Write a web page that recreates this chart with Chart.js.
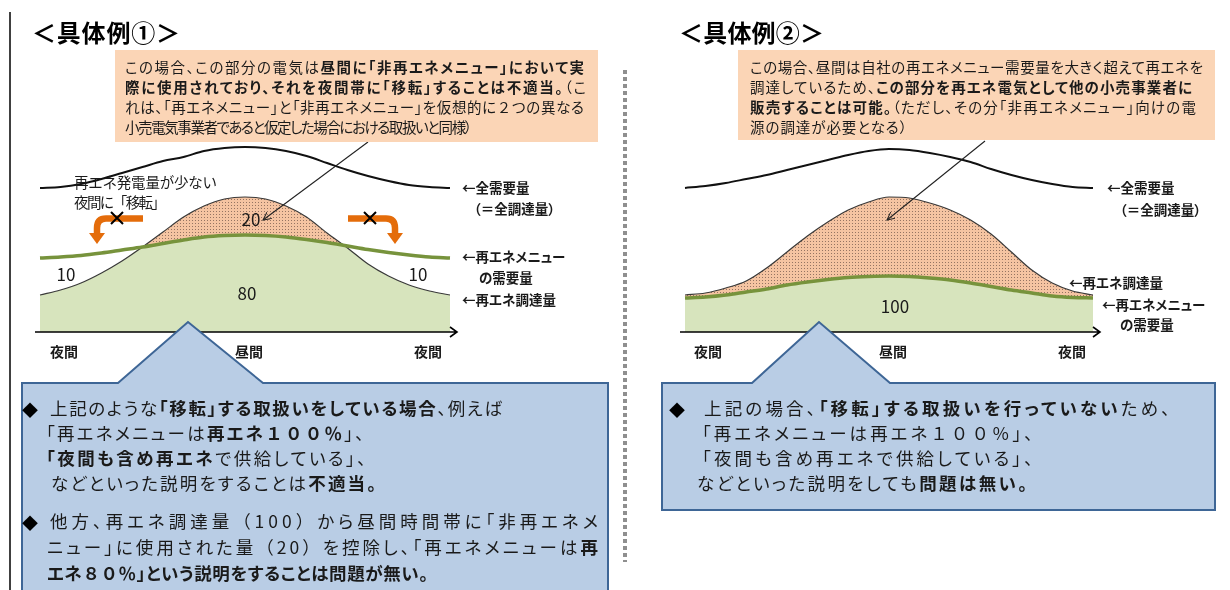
<!DOCTYPE html>
<html lang="ja">
<head>
<meta charset="utf-8">
<script src="https://cdn.jsdelivr.net/npm/chart.js@4.4.1/dist/chart.umd.min.js"></script>
<style>
html,body{margin:0;padding:0;background:#fff;}
body{width:1230px;height:590px;position:relative;overflow:hidden;font-family:"Noto Sans CJK JP","Noto Sans",sans-serif;color:#1a1a1a;}
.t{position:absolute;white-space:nowrap;line-height:1;}
.c{transform:translate(-50%,-50%);}
.l{transform:translateY(-50%);}
canvas{position:absolute;}
svg{position:absolute;left:0;top:0;}
.title{font-size:24px;font-weight:bold;color:#000;}
.box{position:absolute;background:#FBD5B6;}
.note{font-size:14.5px;font-feature-settings:"palt";}
.lab{font-size:13.5px;font-weight:bold;font-feature-settings:"palt";}
.num{font-size:17px;}
.ax{font-size:14px;font-weight:bold;}
.blue{font-size:17.5px;font-feature-settings:"palt";}
.fw{font-feature-settings:normal;}
.dia{font-size:16px;color:#000;}
</style>
</head>
<body>
<canvas id="chart1" width="450" height="225" style="left:20px;top:120px"></canvas>
<canvas id="chart2" width="448" height="225" style="left:665px;top:120px"></canvas>

<svg width="1230" height="590">
  <defs>
    <marker id="tip" markerWidth="9" markerHeight="8" refX="8" refY="4" orient="auto" markerUnits="userSpaceOnUse">
      <path d="M0,0 L8,4 L0,8" fill="none" stroke="#222" stroke-width="1"/>
    </marker>
    <pattern id="dash" width="4" height="7" patternUnits="userSpaceOnUse"><rect width="4" height="4" fill="#8f8f8f"/></pattern>
  </defs>
  <line x1="10" y1="12" x2="10" y2="590" stroke="#000" stroke-width="1.5"/>
  <rect x="623" y="68" width="4" height="494" fill="url(#dash)"/>

  <line x1="368" y1="142" x2="263" y2="220" stroke="#222" stroke-width="1.1" marker-end="url(#tip)"/>
  <line x1="985" y1="141" x2="887" y2="220" stroke="#222" stroke-width="1.1" marker-end="url(#tip)"/>

  <path d="M143,218.5 L106,218.5 Q97,218.5 97,228 L97,234" fill="none" stroke="#E46C0A" stroke-width="6.5"/>
  <polygon points="89,233 105,233 97,244" fill="#E46C0A"/>
  <path d="M348,218.5 L386,218.5 Q395,218.5 395,228 L395,234" fill="none" stroke="#E46C0A" stroke-width="6.5"/>
  <polygon points="387,233 403,233 395,244" fill="#E46C0A"/>
  <path d="M111,212 L123,224 M123,212 L111,224 M364,212 L376,224 M376,212 L364,224" stroke="#000" stroke-width="2"/>

  <path d="M22,383 L118,383 L188,322 L263,383 L608,383 L608,600 L22,600 Z" fill="#B9CDE5" stroke="#3E6696" stroke-width="2"/>
  <path d="M662,383 L752,383 L819,322 L890,383 L1215,383 L1215,510 L662,510 Z" fill="#B9CDE5" stroke="#3E6696" stroke-width="2"/>
</svg>

<div class="t title l" data-r="180" style="left:32px;top:32px">＜具体例①＞</div>
<div class="t title l" data-r="824" style="left:679px;top:32px">＜具体例②＞</div>

<div class="box" style="left:115px;top:50px;width:483px;height:92px"></div>
<div class="t note l" data-r="584" style="left:125px;top:67px">この場合、この部分の電気は<b>昼間に「非再エネメニュー」において実</b></div>
<div class="t note l" data-r="586" style="left:125px;top:87px"><b>際に使用されており、それを夜間帯に「移転」することは不適当。</b>（こ</div>
<div class="t note l" data-r="584" style="left:125px;top:107px">れは、「再エネメニュー」と「非再エネメニュー」を仮想的に<span class="fw">２</span>つの異なる</div>
<div class="t note l" data-r="472" style="left:125px;top:127px">小売電気事業者であると仮定した場合における取扱いと同様）</div>

<div class="box" style="left:738px;top:50px;width:477px;height:90px"></div>
<div class="t note l" data-r="1203" style="left:750px;top:67px">この場合、昼間は自社の再エネメニュー需要量を大きく超えて再エネを</div>
<div class="t note l" data-r="1192" style="left:750px;top:87px">調達しているため、<b>この部分を再エネ電気として他の小売事業者に</b></div>
<div class="t note l" data-r="1196" style="left:750px;top:107px"><b>販売することは可能。</b>（ただし、その分「非再エネメニュー」向けの電</div>
<div class="t note l" data-r="907" style="left:750px;top:127px">源の調達が必要となる）</div>

<div class="t l" data-r="217" style="left:74px;top:182px;font-size:14.5px">再エネ発電量が少ない</div>
<div class="t l" data-r="166" style="left:74px;top:202px;font-size:14.5px">夜間に「移転」</div>

<div class="t num c" style="left:251px;top:218px">20</div>
<div class="t num c" style="left:66px;top:273px">10</div>
<div class="t num c" style="left:418px;top:273px">10</div>
<div class="t num c" style="left:247px;top:292px">80</div>
<div class="t num c" style="left:895px;top:305px">100</div>

<div class="t lab l" style="left:462px;top:188px">←全需要量</div>
<div class="t lab l" style="left:474px;top:209px">（＝全調達量）</div>
<div class="t lab l" style="left:462px;top:257px">←再エネメニュー</div>
<div class="t lab l" style="left:479px;top:278px">の需要量</div>
<div class="t lab l" style="left:462px;top:300px">←再エネ調達量</div>

<div class="t lab l" style="left:1107px;top:188px">←全需要量</div>
<div class="t lab l" style="left:1120px;top:210px">（＝全調達量）</div>
<div class="t lab l" style="left:1069px;top:283px">←再エネ調達量</div>
<div class="t lab l" style="left:1102px;top:305px">←再エネメニュー</div>
<div class="t lab l" style="left:1120px;top:325px">の需要量</div>

<div id="ax1"></div>
<div id="ax2"></div>

<div class="t dia c" style="left:30px;top:409px">◆</div>
<div class="t blue l" data-r="502" style="left:50px;top:408px">上記のような<b>「移転」する取扱いをしている場合</b>、例えば</div>
<div class="t blue l" data-r="364" style="left:46px;top:433px">「再エネメニューは<b>再エネ<span class="fw">１００％</span></b>」、</div>
<div class="t blue l" data-r="366" style="left:46px;top:458px"><b>「夜間も含め再エネ</b>で供給している」、</div>
<div class="t blue l" data-r="376" style="left:51px;top:483px">などといった説明をすることは<b>不適当。</b></div>
<div class="t dia c" style="left:30px;top:522px">◆</div>
<div class="t blue l" data-r="598" style="left:50px;top:521px">他方、再エネ調達量<span class="fw">（100）</span>から昼間時間帯に「非再エネメ</div>
<div class="t blue l" data-r="598" style="left:47px;top:547px">ニュー」に使用された量<span class="fw">（20）</span>を控除し、「再エネメニューは<b>再</b></div>
<div class="t blue l" data-r="428" style="left:47px;top:573px"><b>エネ<span class="fw">８０％</span>」という説明をすることは問題が無い。</b></div>

<div class="t dia c" style="left:677px;top:409px">◆</div>
<div class="t blue l" data-r="1170" style="left:704px;top:408px">上記の場合、<b>「移転」する取扱いを行っていない</b>ため、</div>
<div class="t blue l" data-r="1033" style="left:702px;top:433px">「再エネメニューは再エネ<span class="fw">１００％</span>」、</div>
<div class="t blue l" data-r="1033" style="left:702px;top:458px">「夜間も含め再エネで供給している」、</div>
<div class="t blue l" data-r="1027" style="left:697px;top:483px">などといった説明をしても<b>問題は無い。</b></div>

<script>
// time slots across one day (night -> daytime -> night)
const slots = [0,1,2,3,4,5,6,7,8,9,10,11,12,13,14,15,16,17,18,19,20];
const timeLabels = ['夜間', '昼間', '夜間'];

// 具体例①
const totalDemand1 = [72,72.5,74,76.5,79.5,82.5,85.5,87.5,90.5,92,92.5,92,90.5,88,84.5,81,78,75.5,73.5,72.5,72];
const menuDemand1 = [37,37.5,38.25,39.5,41,42.5,44.25,46,47.5,48.25,48.5,48.25,47.5,46.25,44.75,43,41.25,39.75,38.5,37.5,37];
const procurement1 = [18.5,21,24.5,29.5,35.5,42.5,50,57.5,63,66.5,67.5,66.5,63,57.5,49.5,42,34,28,23.5,20.5,18.5];

// 具体例②
const totalDemand2 = [72,73,74.5,76.5,78.5,81,83.5,86,88.5,90.5,91.5,91,89.5,87.5,85,81.5,78.5,76,74,72.5,72];
const menuDemand2 = [17,17.5,18.5,20,21.5,23.5,25,26.25,27.25,27.75,28,27.75,27,26,24.5,22.75,21,19.5,18,17.25,17];
const procurement2 = [18.5,19.5,22,25.5,32,40,48,55,61,65,67.5,67,64.5,61,56,49,40,31,24.5,20.5,18.5];

const axisArrow = {
  id: 'axisArrow',
  afterDatasetsDraw(chart) {
    const ctx = chart.ctx, a = chart.chartArea;
    ctx.save();
    ctx.strokeStyle = '#000';
    ctx.lineWidth = 1.6;
    ctx.beginPath();
    ctx.moveTo(a.left - 5, a.bottom);
    ctx.lineTo(a.right + 7, a.bottom);
    ctx.moveTo(a.right, a.bottom - 5);
    ctx.lineTo(a.right + 7, a.bottom);
    ctx.lineTo(a.right, a.bottom + 5);
    ctx.stroke();
    ctx.restore();
  }
};

function dots(ctx) {
  const tile = document.createElement('canvas');
  tile.width = 3; tile.height = 3;
  const g = tile.getContext('2d');
  g.fillStyle = '#F5C4A2';
  g.fillRect(0, 0, 3, 3);
  g.fillStyle = '#957462';
  g.fillRect(1, 1, 1, 1);
  return ctx.createPattern(tile, 'repeat');
}

function drawCase(id, total, menu, proc) {
  const el = document.getElementById(id);
  const ctx = el.getContext('2d');
  const base = menu.map((v, i) => Math.min(v, proc[i]));
  return new Chart(el, {
    type: 'line',
    data: {
      labels: slots,
      datasets: [{
        label: '全需要量',
        data: total,
        borderColor: '#111',
        borderWidth: 2,
        fill: false,
        order: 0
      }, {
        label: '再エネメニューの需要量',
        data: menu,
        borderColor: '#77933C',
        borderWidth: 3.5,
        fill: false,
        order: 1
      }, {
        label: '再エネ調達量',
        data: proc,
        borderColor: '#3a3a3a',
        borderWidth: 1.2,
        fill: {target: 1, above: dots(ctx), below: 'rgba(0,0,0,0)'},
        order: 2
      }, {
        label: 'base',
        data: base,
        borderWidth: 0,
        borderColor: 'rgba(0,0,0,0)',
        backgroundColor: '#D7E4BD',
        fill: 'origin',
        order: 3
      }]
    },
    options: {
      responsive: false,
      animation: false,
      layout: {padding: {left: 20, right: 20, top: 12, bottom: 13}},
      elements: {point: {radius: 0}, line: {cubicInterpolationMode: 'monotone'}},
      plugins: {legend: {display: false}, tooltip: {enabled: false}},
      scales: {
        x: {display: false},
        y: {display: false, min: 0, max: 100}
      }
    },
    plugins: [axisArrow]
  });
}

drawCase('chart1', totalDemand1, menuDemand1, procurement1);
drawCase('chart2', totalDemand2, menuDemand2, procurement2);

// axis labels under each chart
function axisLabels(holder, xs) {
  const box = document.getElementById(holder);
  timeLabels.forEach((txt, i) => {
    const d = document.createElement('div');
    d.className = 't ax c';
    d.style.left = xs[i] + 'px';
    d.style.top = '351px';
    d.textContent = txt;
    box.appendChild(d);
  });
}
axisLabels('ax1', [64, 249, 428]);
axisLabels('ax2', [708, 893, 1072]);

// spread each text line so it ends where the original line ends
document.querySelectorAll('[data-r]').forEach(el => {
  const r = el.getBoundingClientRect();
  const n = Math.max(1, [...el.textContent].length - 1);
  el.style.letterSpacing = ((+el.dataset.r - r.right) / n) + 'px';
});
</script>
</body>
</html>
